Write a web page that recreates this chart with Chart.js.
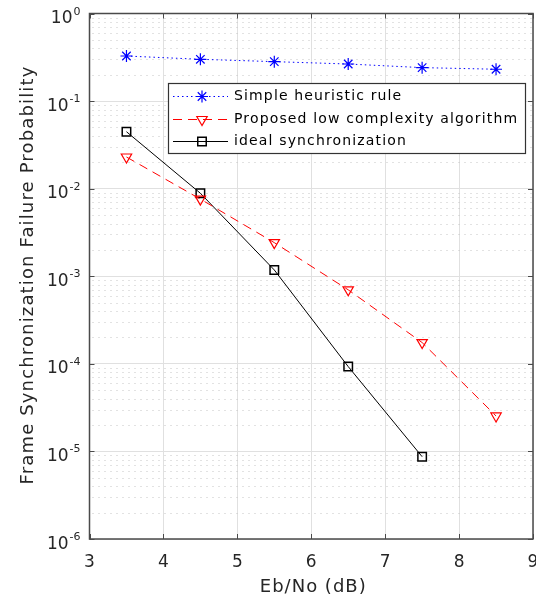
<!DOCTYPE html>
<html>
<head>
<meta charset="utf-8">
<script src="https://cdn.jsdelivr.net/npm/chart.js@4.4.0/dist/chart.umd.min.js"></script>
<style>
html, body { margin: 0; padding: 0; background: #fff; }
</style>
</head>
<body>
<canvas id="chart" width="536" height="598"></canvas>
<script>
// Data
const ebNo = [3.5, 4.5, 5.5, 6.5, 7.5, 8.5];
const heuristic = [0.327, 0.300, 0.282, 0.265, 0.241, 0.231];
const proposed = [0.023, 0.0076, 0.00242, 0.0007, 0.000175, 0.0000254];
const ideal = [0.0447, 0.00886, 0.00118, 0.000093, 0.0000087];
const xTicks = [3, 4, 5, 6, 7, 8, 9];
const yExponents = [0, -1, -2, -3, -4, -5, -6];
const seriesNames = ['Simple heuristic rule', 'Proposed low complexity algorithm', 'ideal synchronization'];
const xTitle = 'Eb/No (dB)';
const yTitle = 'Frame Synchronization Failure Probability';

const FONT = "'DejaVu Sans', sans-serif";
const TEXT = '#262626';

function pairs(ys) {
    return ys.map((y, i) => ({ x: ebNo[i], y: y }));
}

// Minor dotted grid, box, inward ticks, tick labels, titles and legend
const matlabAxes = {
    id: 'matlabAxes',
    beforeDatasetsDraw(chart) {
        const { ctx, chartArea: a, scales: { y } } = chart;
        ctx.save();
        ctx.strokeStyle = '#c4c4c4';
        ctx.lineWidth = 1;
        ctx.setLineDash([1, 5]);
        for (const e of yExponents) {
            if (e === 0) continue;
            for (let k = 2; k <= 9; k++) {
                const py = Math.round(y.getPixelForValue(k * Math.pow(10, e))) + 0.5;
                ctx.beginPath();
                ctx.moveTo(a.left + 3, py);
                ctx.lineTo(a.right, py);
                ctx.stroke();
            }
        }
        ctx.restore();
    },
    afterDraw(chart) {
        const { ctx, chartArea: a, scales: { x, y } } = chart;
        ctx.save();

        // box
        ctx.strokeStyle = '#4a4a4a';
        ctx.lineWidth = 1.5;
        ctx.strokeRect(a.left, a.top, a.right - a.left, a.bottom - a.top);

        // inward ticks
        ctx.lineWidth = 1;
        ctx.beginPath();
        for (const v of xTicks) {
            const px = Math.round(x.getPixelForValue(v)) + 0.5;
            ctx.moveTo(px, a.bottom); ctx.lineTo(px, a.bottom - 5);
            ctx.moveTo(px, a.top); ctx.lineTo(px, a.top + 5);
        }
        for (const e of yExponents) {
            const py = Math.round(y.getPixelForValue(Math.pow(10, e))) + 0.5;
            ctx.moveTo(a.left, py); ctx.lineTo(a.left + 5, py);
            ctx.moveTo(a.right, py); ctx.lineTo(a.right - 5, py);
        }
        ctx.stroke();

        // x tick labels
        ctx.fillStyle = TEXT;
        ctx.font = '17px ' + FONT;
        ctx.textAlign = 'center';
        ctx.textBaseline = 'alphabetic';
        for (const v of xTicks) {
            ctx.fillText(String(v), x.getPixelForValue(v), 566.5);
        }

        // y tick labels 10^e
        ctx.textAlign = 'left';
        for (const e of yExponents) {
            const py = y.getPixelForValue(Math.pow(10, e));
            const exp = String(e);
            ctx.font = '11px ' + FONT;
            const w2 = ctx.measureText(exp).width;
            ctx.font = '17px ' + FONT;
            const w1 = ctx.measureText('10').width;
            const right = a.left - 9;
            ctx.fillText('10', right - w2 - w1 - 1, py + 9.5);
            ctx.font = '11px ' + FONT;
            ctx.fillText(exp, right - w2, py + 1);
        }

        // axis titles
        ctx.font = '18px ' + FONT;
        ctx.letterSpacing = '1px';
        ctx.textAlign = 'center';
        ctx.fillText(xTitle, (a.left + a.right) / 2 + 2, 591.5);
        ctx.save();
        ctx.letterSpacing = '1.15px';
        ctx.translate(33, 275);
        ctx.rotate(-Math.PI / 2);
        ctx.fillText(yTitle, 0, 0);
        ctx.restore();

        // legend
        const box = { l: 168, t: 83, r: 525, b: 153 };
        ctx.letterSpacing = '0px';
        ctx.fillStyle = '#fff';
        ctx.fillRect(box.l, box.t, box.r - box.l, box.b - box.t);
        ctx.strokeStyle = '#333';
        ctx.lineWidth = 1.2;
        ctx.strokeRect(box.l + 0.5, box.t + 0.5, box.r - box.l, box.b - box.t);

        const rows = [96, 119, 141];
        chart.data.datasets.forEach((ds, i) => {
            const ry = rows[i] + 0.5;
            ctx.strokeStyle = ds.borderColor;
            ctx.lineWidth = 1;
            ctx.setLineDash(ds.borderDash || []);
            ctx.beginPath();
            ctx.moveTo(173, ry);
            ctx.lineTo(228, ry);
            ctx.stroke();
            ctx.setLineDash([]);
            ctx.fillStyle = 'rgba(0,0,0,0)';
            ctx.strokeStyle = ds.pointBorderColor;
            ctx.lineWidth = ds.pointBorderWidth;
            Chart.helpers.drawPoint(ctx, {
                pointStyle: ds.pointStyle,
                radius: ds.pointRadius,
                rotation: ds.pointRotation || 0,
                borderWidth: ds.pointBorderWidth
            }, 202, ry);
            ctx.fillStyle = '#000';
            ctx.font = '14px ' + FONT;
            ctx.letterSpacing = '1.15px';
            ctx.textAlign = 'left';
            ctx.textBaseline = 'middle';
            ctx.fillText(ds.label, 234, ry);
            ctx.letterSpacing = '0px';
        });
        ctx.restore();
    }
};

new Chart(document.getElementById('chart'), {
    type: 'line',
    data: {
        datasets: [
            {
                label: seriesNames[0],
                data: pairs(heuristic),
                borderColor: '#0000ff',
                borderWidth: 1,
                borderDash: [1.5, 3],
                pointStyle: 'star',
                pointRadius: 6,
                pointBorderColor: '#0000ff',
                pointBackgroundColor: 'rgba(0,0,0,0)',
                pointBorderWidth: 1.2
            },
            {
                label: seriesNames[1],
                data: pairs(proposed),
                borderColor: '#ff0000',
                borderWidth: 1,
                borderDash: [9, 6],
                pointStyle: 'triangle',
                pointRotation: 180,
                pointRadius: 6,
                pointBorderColor: '#ff0000',
                pointBackgroundColor: 'rgba(0,0,0,0)',
                pointBorderWidth: 1.2
            },
            {
                label: seriesNames[2],
                data: pairs(ideal),
                borderColor: '#000000',
                borderWidth: 1,
                pointStyle: 'rect',
                pointRadius: 6,
                pointBorderColor: '#000000',
                pointBackgroundColor: 'rgba(0,0,0,0)',
                pointBorderWidth: 1.5
            }
        ]
    },
    options: {
        responsive: false,
        animation: false,
        devicePixelRatio: 1,
        // no dataset overflow padding, the plot box is fixed like the reference
        layout: { autoPadding: false, padding: { left: 0, top: 13.5, right: 3, bottom: 0 } },
        plugins: { legend: { display: false }, tooltip: { enabled: false } },
        scales: {
            x: {
                type: 'linear',
                min: 3,
                max: 9,
                afterBuildTicks: (s) => { s.ticks = xTicks.map(v => ({ value: v })); },
                afterFit: (s) => { s.height = 59; s.paddingLeft = 0; s.paddingRight = 0; },
                grid: { color: '#e0e0e0', drawTicks: false },
                border: { display: false },
                ticks: { display: false }
            },
            y: {
                type: 'logarithmic',
                min: 1e-6,
                max: 1,
                afterBuildTicks: (s) => { s.ticks = yExponents.map(e => ({ value: Math.pow(10, e) })); },
                afterFit: (s) => { s.width = 89.5; s.paddingTop = 0; s.paddingBottom = 0; },
                grid: { color: '#e0e0e0', drawTicks: false },
                border: { display: false },
                ticks: { display: false }
            }
        }
    },
    plugins: [matlabAxes]
});
</script>
</body>
</html>
